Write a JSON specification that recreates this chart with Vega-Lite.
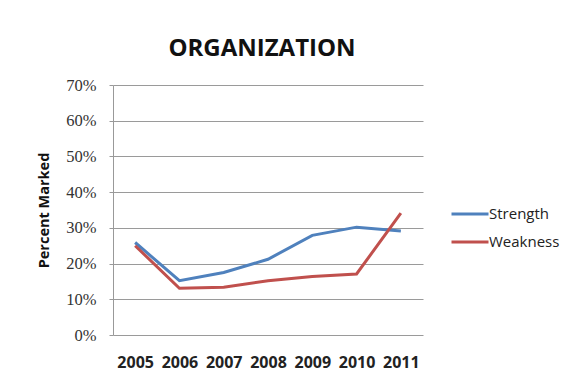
{
  "$schema": "https://vega.github.io/schema/vega-lite/v6.json",
  "autosize": {"type": "none"},
  "width": 310,
  "height": 250,
  "padding": {"left": 113, "top": 85, "right": 159, "bottom": 50},
  "background": "white",
  "title": {
    "text": "ORGANIZATION",
    "font": "Open Sans",
    "fontSize": 24,
    "fontWeight": "bold",
    "color": "#111111",
    "anchor": "middle",
    "offset": 16,
    "dx": -6
  },
  "data": {
    "values": [
      {"year": "2005", "series": "Strength", "value": 0.259},
      {"year": "2006", "series": "Strength", "value": 0.152},
      {"year": "2007", "series": "Strength", "value": 0.175},
      {"year": "2008", "series": "Strength", "value": 0.212},
      {"year": "2009", "series": "Strength", "value": 0.279},
      {"year": "2010", "series": "Strength", "value": 0.302},
      {"year": "2011", "series": "Strength", "value": 0.291},
      {"year": "2005", "series": "Weakness", "value": 0.25},
      {"year": "2006", "series": "Weakness", "value": 0.131},
      {"year": "2007", "series": "Weakness", "value": 0.134},
      {"year": "2008", "series": "Weakness", "value": 0.152},
      {"year": "2009", "series": "Weakness", "value": 0.164},
      {"year": "2010", "series": "Weakness", "value": 0.171},
      {"year": "2011", "series": "Weakness", "value": 0.341}
    ]
  },
  "mark": {"type": "line", "strokeWidth": 3},
  "encoding": {
    "x": {
      "field": "year",
      "type": "ordinal",
      "scale": {"type": "point", "padding": 0.5},
      "axis": {
        "title": null,
        "labelAngle": 0,
        "labelFont": "Open Sans",
        "labelFontSize": 16,
        "labelFontWeight": "bold",
        "labelColor": "#222222",
        "ticks": false,
        "domain": false,
        "grid": false,
        "labelPadding": 19
      }
    },
    "y": {
      "field": "value",
      "type": "quantitative",
      "scale": {"domain": [0, 0.7]},
      "axis": {
        "title": "Percent Marked",
        "titleFont": "Open Sans",
        "titleFontSize": 14.5,
        "titleFontWeight": "bold",
        "titleColor": "#111111",
        "titlePadding": 14,
        "format": ".0%",
        "values": [0, 0.1, 0.2, 0.3, 0.4, 0.5, 0.6, 0.7],
        "labelFont": "Liberation Serif",
        "labelFontSize": 16.5,
        "labelColor": "#333333",
        "labelPadding": 13,
        "tickSize": 4,
        "tickColor": "#999999",
        "domainColor": "#999999",
        "grid": true,
        "gridColor": "#9a9a9a",
        "gridWidth": 1
      }
    },
    "color": {
      "field": "series",
      "type": "nominal",
      "scale": {"domain": ["Strength", "Weakness"], "range": ["#4F81BD", "#C0504D"]},
      "legend": {
        "title": null,
        "orient": "none",
        "legendX": 337,
        "legendY": 109,
        "symbolType": "stroke",
        "symbolSize": 1369,
        "symbolStrokeWidth": 3,
        "labelFont": "Open Sans",
        "labelFontSize": 15,
        "labelColor": "#222222",
        "labelOffset": -1,
        "rowPadding": -5
      }
    }
  },
  "config": {"view": {"stroke": null}}
}
